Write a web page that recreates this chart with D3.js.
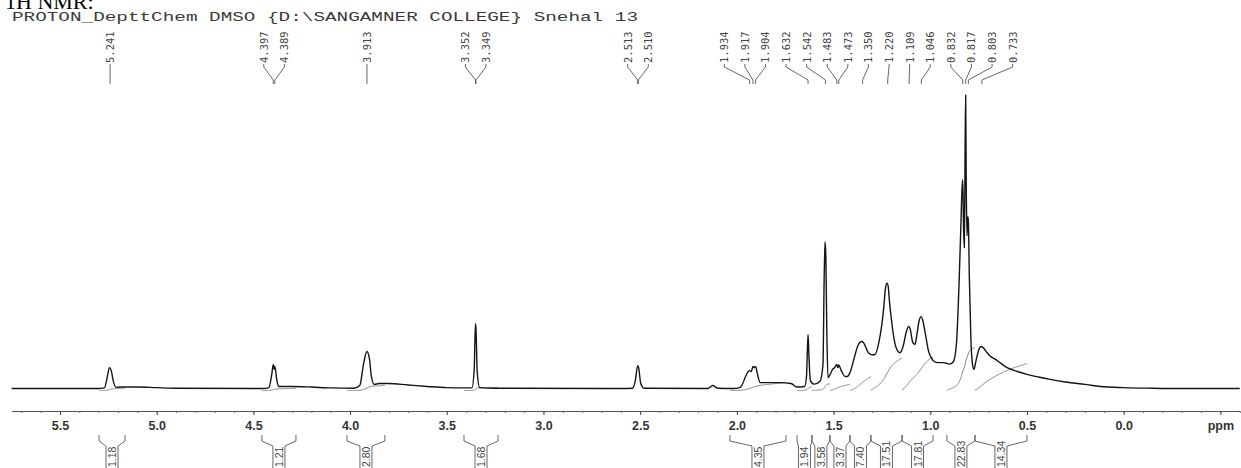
<!DOCTYPE html>
<html>
<head>
<meta charset="utf-8">
<script src="https://cdn.jsdelivr.net/npm/d3@7"></script>
<style>
  body { margin: 0; background: #fff; }
  svg { display: block; }
</style>
</head>
<body>
<svg id="chart" width="1241" height="468"></svg>
<script>
var title = "1H NMR:";
var header = "PROTON_DepttChem DMSO {D:\\SANGAMNER COLLEGE} Snehal 13";

// [ppm, relative intensity] (tallest line = 100)
var spectrum = [
  [5.75, 0], [5.30, 0], [5.27, 0.2], [5.255, 4.1], [5.245, 7.1], [5.235, 6.1], [5.225, 2.7],
  [5.21, 0.4], [5.19, 0.5], [5.10, 0.5], [5.00, 0.3], [4.90, 0.1], [4.45, 0], [4.42, 0.3],
  [4.405, 4.8], [4.397, 8.2], [4.393, 6.5], [4.389, 7.5], [4.38, 3.4], [4.37, 0.7], [4.30, 0.7],
  [4.20, 0.5], [4.10, 0.2], [3.98, 0.1], [3.95, 1.0], [3.93, 8.5], [3.913, 12.6], [3.90, 10.2],
  [3.89, 4.1], [3.875, 1.4], [3.85, 1.7], [3.80, 1.7], [3.70, 1.2], [3.60, 0.7], [3.50, 0.3],
  [3.40, 0.2], [3.37, 0.2], [3.358, 6.8], [3.352, 22.1], [3.349, 20.4], [3.343, 6.1], [3.33, 0.3],
  [3.25, 0.1], [2.60, 0], [2.54, 0.1], [2.525, 2.7], [2.513, 7.8], [2.508, 7.1], [2.497, 1.7],
  [2.48, 0.1], [2.15, 0], [2.125, 1.0], [2.10, 0.1], [2.02, 0], [1.985, 0.3], [1.975, 1.0],
  [1.955, 4.1], [1.945, 5.4], [1.934, 6.1], [1.925, 5.8], [1.917, 7.5], [1.910, 7.1], [1.904, 7.5],
  [1.893, 4.8], [1.88, 2.0], [1.86, 2.0], [1.78, 2.0], [1.72, 1.7], [1.69, 0.5], [1.65, 0.7],
  [1.64, 4], [1.636, 12], [1.632, 18.4], [1.628, 12], [1.62, 2.7], [1.60, 1.5], [1.57, 2.5],
  [1.555, 8], [1.548, 40], [1.544, 50], [1.540, 45], [1.535, 20], [1.529, 3.7], [1.52, 4.5],
  [1.505, 6.5], [1.495, 7.1], [1.483, 8.2], [1.478, 7.1], [1.473, 8.0], [1.46, 6.1], [1.44, 4.1],
  [1.43, 4.1], [1.415, 5.4], [1.395, 10], [1.375, 14.5], [1.355, 16.0], [1.345, 15.6], [1.32, 12.2],
  [1.30, 11.5], [1.286, 11.6], [1.265, 16], [1.25, 22], [1.24, 28], [1.232, 34], [1.224, 36.0],
  [1.218, 35], [1.21, 29], [1.20, 23], [1.19, 18], [1.175, 13.6], [1.157, 12.2], [1.14, 14.5],
  [1.125, 19], [1.112, 21.1], [1.105, 20.5], [1.09, 15.6], [1.079, 15.0], [1.07, 18], [1.058, 23],
  [1.048, 24.5], [1.04, 23.5], [1.025, 18.5], [1.01, 13], [0.995, 10.5], [0.98, 9.2], [0.96, 8.8],
  [0.93, 8.8], [0.90, 8.3], [0.88, 9.2], [0.865, 15], [0.852, 34], [0.842, 55], [0.836, 68],
  [0.832, 71.1], [0.828, 55], [0.824, 48], [0.82, 80], [0.817, 100], [0.814, 70], [0.81, 52],
  [0.806, 58.5], [0.803, 57], [0.798, 38], [0.79, 17], [0.782, 8.5], [0.774, 6.5], [0.765, 9],
  [0.75, 13], [0.738, 14.3], [0.728, 14], [0.71, 12.5], [0.69, 11], [0.665, 10], [0.64, 8.8],
  [0.60, 7], [0.55, 5.8], [0.50, 4.8], [0.44, 3.9], [0.38, 3.1], [0.30, 2.2], [0.20, 1.4],
  [0.12, 0.7], [0.0, 0.3], [-0.15, 0.1], [-0.30, 0], [-0.60, 0]
];

var peakPicks = [5.241, 4.397, 4.389, 3.913, 3.352, 3.349, 2.513, 2.510, 1.934, 1.917, 1.904,
  1.632, 1.542, 1.483, 1.473, 1.350, 1.220, 1.109, 1.046, 0.832, 0.817, 0.803, 0.733];

// integral regions: [from ppm, to ppm, value]
var integrals = [
  [5.298, 5.164, 1.18], [4.456, 4.280, 1.21], [4.016, 3.820, 2.80], [3.411, 3.235, 1.68],
  [2.036, 1.746, 4.35], [1.689, 1.612, 1.94], [1.612, 1.519, 3.58], [1.519, 1.415, 3.37],
  [1.415, 1.307, 7.40], [1.307, 1.146, 17.51], [1.146, 0.986, 17.81], [0.914, 0.769, 22.83],
  [0.769, 0.500, 14.34]
];

var majorTicks = [5.5, 5.0, 4.5, 4.0, 3.5, 3.0, 2.5, 2.0, 1.5, 1.0, 0.5, 0.0, -0.5];
var tickLabels = ["5.5", "5.0", "4.5", "4.0", "3.5", "3.0", "2.5", "2.0", "1.5", "1.0", "0.5", "0.0", "ppm"];

var svg = d3.select("#chart");

var x = d3.scaleLinear().domain([5.75, -0.6]).range([11.65, 1239.7]);
var y = d3.scaleLinear().domain([0, 100]).range([388.5, 95]);
var integralScale = 0.64, integralBase = -0.7;

// title + acquisition header
svg.append("text")
  .attr("x", 5).attr("y", 9)
  .style("font-family", "'Liberation Serif', 'Times New Roman', serif")
  .style("font-size", "22px")
  .text(title);

svg.append("text")
  .attr("x", 12).attr("y", 21)
  .attr("textLength", 626).attr("lengthAdjust", "spacingAndGlyphs")
  .style("font-family", "'Liberation Mono', 'Courier New', monospace")
  .style("font-size", "13px")
  .style("fill", "#3a3a3a")
  .text(header);

// spread label positions so neighbours keep a minimum gap
function spread(xs, gap) {
  var cl = xs.map(function(v) { return {items: [v]}; });
  function center(c) { return d3.mean(c.items); }
  var merged = true;
  while (merged) {
    merged = false;
    for (var i = 0; i < cl.length - 1; i++) {
      var a = cl[i], b = cl[i + 1];
      var aEnd = center(a) + (a.items.length - 1) * gap / 2;
      var bStart = center(b) - (b.items.length - 1) * gap / 2;
      if (bStart - aEnd < gap) {
        cl.splice(i, 2, {items: a.items.concat(b.items)});
        merged = true;
        break;
      }
    }
  }
  var out = [];
  cl.forEach(function(c) {
    var c0 = center(c) - (c.items.length - 1) * gap / 2;
    c.items.forEach(function(v, j) { out.push(c0 + j * gap); });
  });
  return out;
}

// spectrum
var line = d3.line()
  .x(function(d) { return x(d[0]); })
  .y(function(d) { return y(d[1]); })
  .curve(d3.curveMonotoneX);

// interpolate intensity at a ppm value
var bis = d3.bisector(function(d) { return -d[0]; }).left;
function intensityAt(p) {
  var i = bis(spectrum, -p);
  if (i <= 0) return spectrum[0][1];
  if (i >= spectrum.length) return spectrum[spectrum.length - 1][1];
  var a = spectrum[i - 1], b = spectrum[i];
  var t = (a[0] - p) / (a[0] - b[0]);
  return a[1] + t * (b[1] - a[1]);
}

// integral traces, built from the trace itself
var integralLine = d3.line()
  .x(function(d) { return x(d[0]); })
  .y(function(d) { return y(d[1]); });

integrals.forEach(function(r) {
  var n = 80, step = (r[0] - r[1]) / n, acc = 0, pts = [];
  var vals = d3.range(n + 1).map(function(k) { return intensityAt(r[0] - k * step) + 0.3; });
  var total = d3.sum(vals);
  vals.forEach(function(v, k) {
    acc += v;
    pts.push([r[0] - k * step, integralBase + (acc / total) * r[2] * integralScale]);
  });
  svg.append("path")
    .attr("d", integralLine(pts))
    .attr("fill", "none")
    .attr("stroke", "#808080")
    .attr("stroke-width", 1);
});

svg.append("path")
  .datum(spectrum)
  .attr("d", line)
  .attr("fill", "none")
  .attr("stroke", "#141414")
  .attr("stroke-width", 1.4)
  .attr("stroke-linejoin", "round");

// peak pick labels
var peakX = peakPicks.map(function(p) { return x(p); });
var labelX = spread(peakX, 20.6);

var picks = svg.append("g").attr("class", "picks");
peakPicks.forEach(function(p, i) {
  var lx = labelX[i], px = peakX[i];
  picks.append("path")
    .attr("d", "M" + lx + ",64 L" + lx + ",67 L" + px + ",80 L" + px + ",84")
    .attr("fill", "none")
    .attr("stroke", "#555")
    .attr("stroke-width", 0.9);
  picks.append("text")
    .attr("transform", "translate(" + lx + ",63) rotate(-90)")
    .attr("dominant-baseline", "central")
    .style("font-family", "'DejaVu Sans Mono', 'Liberation Mono', monospace")
    .style("font-size", "10.5px")
    .style("fill", "#444")
    .text(p.toFixed(3));
});

// axis
var axisG = svg.append("g").attr("transform", "translate(0,411)");
axisG.call(d3.axisBottom(x)
  .tickValues(d3.range(57, -7, -1).map(function(d) { return d / 10; }))
  .tickFormat("")
  .tickSize(2)
  .tickSizeOuter(0));
axisG.call(function(g) {
  g.select(".domain").attr("stroke", "#555");
  g.selectAll(".tick line").attr("stroke", "#666");
});

var majorG = svg.append("g").attr("transform", "translate(0,411)");
majorG.call(d3.axisBottom(x)
  .tickValues(majorTicks)
  .tickFormat(function(d, i) { return tickLabels[i]; })
  .tickSize(4)
  .tickPadding(6)
  .tickSizeOuter(0));
majorG.select(".domain").remove();
majorG.selectAll(".tick line").attr("stroke", "#444");
majorG.selectAll(".tick text")
  .style("font-family", "'Liberation Sans', Arial, sans-serif")
  .style("font-size", "12.5px")
  .style("font-weight", "bold")
  .style("fill", "#333");

// integral brackets and values
var intCenters = integrals.map(function(r) { return (x(r[0]) + x(r[1])) / 2; });
var intLabelX = spread(intCenters, 15);
var ints = svg.append("g").attr("class", "integrals");
integrals.forEach(function(r, i) {
  var x1 = x(r[0]), x2 = x(r[1]), lx = intLabelX[i], hw = 6;
  ints.append("path")
    .attr("d", "M" + x1 + ",435 L" + x1 + ",441 L" + (lx - hw) + ",446 L" + (lx - hw) + ",470" +
               "M" + x2 + ",435 L" + x2 + ",441 L" + (lx + hw) + ",446 L" + (lx + hw) + ",470")
    .attr("fill", "none")
    .attr("stroke", "#555")
    .attr("stroke-width", 0.9);
  ints.append("text")
    .attr("transform", "translate(" + lx + ",467) rotate(-90)")
    .attr("dominant-baseline", "central")
    .style("font-family", "'Liberation Sans', Arial, sans-serif")
    .style("font-size", "10.5px")
    .style("fill", "#444")
    .text(r[2].toFixed(2));
});
</script>
</body>
</html>
